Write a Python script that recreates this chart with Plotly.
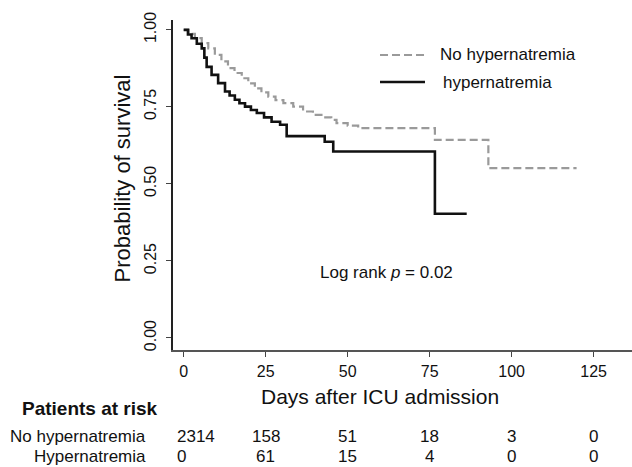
import plotly.graph_objects as go

# ---- data ----
no_hyper_days = [0, 1.5, 3.4, 5.5, 7.5, 9.5, 11.5, 13.5, 15.5, 17.7, 19.7, 21.7, 23.7, 25.8,
                 28.0, 30.4, 33.4, 36.4, 39.4, 42.0, 45.0, 46.6, 50.0, 53.2, 76.6, 92.9, 119.8]
no_hyper_surv = [1.0, 0.987, 0.973, 0.957, 0.94, 0.919, 0.898, 0.876, 0.86, 0.843, 0.826, 0.81,
                 0.797, 0.783, 0.772, 0.762, 0.751, 0.735, 0.724, 0.716, 0.708, 0.697, 0.689,
                 0.681, 0.643, 0.551, 0.551]

hyper_days = [0, 1.3, 2.4, 4.0, 5.5, 6.3, 7.0, 8.5, 10.5, 12.6, 14.0, 15.6, 17.0, 18.7, 20.5,
              22.3, 24.5, 26.8, 29.4, 31.4, 43.0, 45.6, 76.6, 86.3]
hyper_surv = [1.0, 0.985, 0.973, 0.955, 0.94, 0.91, 0.88, 0.854, 0.827, 0.80, 0.787, 0.773,
              0.762, 0.751, 0.74, 0.73, 0.716, 0.702, 0.692, 0.655, 0.637, 0.605, 0.403, 0.403]

x_ticks = [0, 25, 50, 75, 100, 125]
y_ticks = [0, 0.25, 0.5, 0.75, 1.0]
y_tick_labels = ["0.00", "0.25", "0.50", "0.75", "1.00"]

risk_rows = ["No hypernatremia", "Hypernatremia"]
risk_no_hyper = [2314, 158, 51, 18, 3, 0]
risk_hyper = [0, 61, 15, 4, 0, 0]

FONT = "Liberation Sans, Arial, Helvetica, sans-serif"
GREY = "#9a9a9a"

fig = go.Figure()
fig.add_trace(go.Scatter(x=no_hyper_days, y=no_hyper_surv, mode="lines", line_shape="hv",
                         name="No hypernatremia",
                         line=dict(color=GREY, width=2.2, dash="8px,4px")))
fig.add_trace(go.Scatter(x=hyper_days, y=hyper_surv, mode="lines", line_shape="hv",
                         name="hypernatremia",
                         line=dict(color="#111111", width=2.6)))

annotations = []
shapes = []

# legend drawn manually (top right)
legend_items = [("No hypernatremia", GREY, "8px,4px", 2.2, 0.894, 0.577),
                ("hypernatremia", "#111111", "solid", 2.6, 0.812, 0.584)]
for name, col, dash, w, yy, tx in legend_items:
    shapes.append(dict(type="line", xref="paper", yref="paper", x0=0.451, x1=0.549,
                       y0=yy, y1=yy, line=dict(color=col, width=w, dash=dash)))
    annotations.append(dict(text=name, xref="paper", yref="paper", x=tx, y=yy,
                            xanchor="left", yanchor="middle", showarrow=False,
                            font=dict(size=17, color="#111111", family=FONT)))

# log-rank text
annotations.append(dict(text="Log rank <i>p</i> = 0.02", xref="x", yref="y", x=61.7, y=0.211,
                        showarrow=False, xanchor="center", yanchor="middle",
                        font=dict(size=17, color="#111111", family=FONT)))

# axis titles
annotations.append(dict(text="Days after ICU admission", xref="x", yref="paper", x=60, y=-0.142,
                        showarrow=False, xanchor="center", yanchor="middle",
                        font=dict(size=21, color="#111111", family=FONT)))
annotations.append(dict(text="Probability of survival", xref="paper", yref="paper", x=-0.111,
                        y=0.52, showarrow=False, textangle=-90, xanchor="center",
                        yanchor="middle", font=dict(size=22, color="#111111", family=FONT)))

# risk table
annotations.append(dict(text="<b>Patients at risk</b>", xref="paper", yref="paper", x=-0.3333,
                        y=-0.1758, showarrow=False, xanchor="left", yanchor="middle",
                        font=dict(size=19, color="#111111", family=FONT)))
row_y = [-0.2636, -0.3242]
for label, yy, vals in zip(risk_rows, row_y, [risk_no_hyper, risk_hyper]):
    annotations.append(dict(text=label, xref="paper", yref="paper", x=-0.0545, y=yy,
                            showarrow=False, xanchor="right", yanchor="middle",
                            font=dict(size=17, color="#111111", family=FONT)))
    for i, (t, v) in enumerate(zip(x_ticks, vals)):
        annotations.append(dict(text=str(v), xref="x", yref="paper",
                                x=(-2.6 if i == 0 else t), y=yy, showarrow=False,
                                xanchor=("left" if i == 0 else "center"), yanchor="middle",
                                font=dict(size=17, color="#111111", family=FONT)))

fig.update_layout(
    width=632, height=467,
    margin=dict(l=173, r=0, t=20, b=117),
    paper_bgcolor="white", plot_bgcolor="white",
    showlegend=False,
    font=dict(family=FONT, color="#111111"),
    annotations=annotations, shapes=shapes,
    xaxis=dict(range=[-3.26, 136.7], tickvals=x_ticks, ticks="outside", ticklen=5,
               tickcolor="#444", showgrid=False, zeroline=False, showline=True,
               linecolor="#555", linewidth=2, tickfont=dict(size=16), ticklabelstandoff=1),
    yaxis=dict(range=[-0.039, 1.032], tickvals=y_ticks, ticktext=y_tick_labels,
               ticks="outside", ticklen=5, tickcolor="#444", tickangle=-90, showgrid=False,
               zeroline=False, showline=True, linecolor="#222", linewidth=1.5,
               tickfont=dict(size=16), ticklabelstandoff=4),
)

fig.write_html("out.html")
